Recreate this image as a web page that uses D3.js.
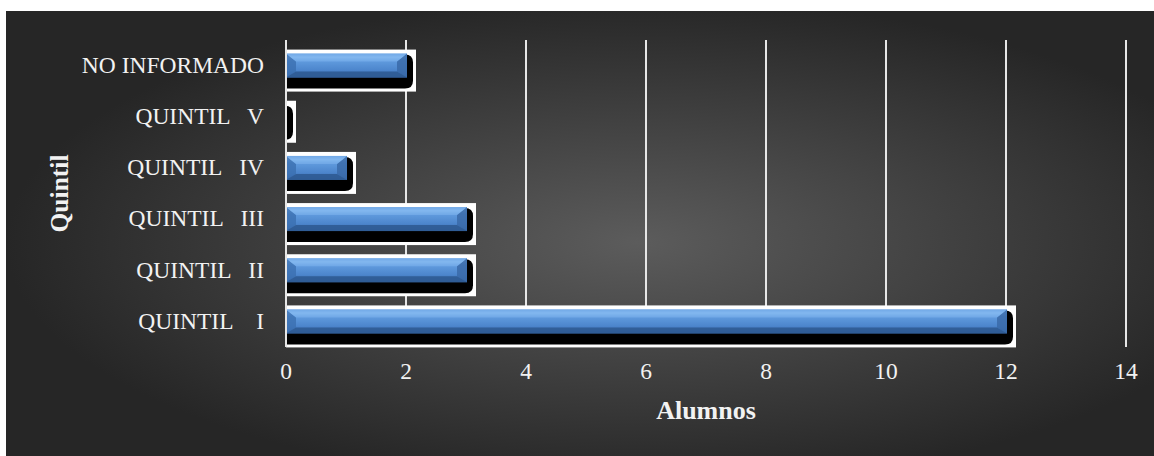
<!DOCTYPE html>
<html><head><meta charset="utf-8">
<script src="https://cdn.jsdelivr.net/npm/d3@7"></script>
<style>html,body{margin:0;padding:0;background:#fff;overflow:hidden}</style>
</head><body>
<svg id="c" width="1154" height="456"></svg>
<script>
const categories = ["NO INFORMADO", "QUINTIL   V", "QUINTIL   IV", "QUINTIL   III", "QUINTIL   II", "QUINTIL    I"];
const values = [2, 0, 1, 3, 3, 12];
const xTicks = [0, 2, 4, 6, 8, 10, 12, 14];
const xTitle = "Alumnos";
const yTitle = "Quintil";

const svg = d3.select("#c");
const defs = svg.append("defs");
const rg = defs.append("radialGradient").attr("id","bg").attr("cx","55%").attr("cy","52%").attr("r","55%");
rg.append("stop").attr("offset","0%").attr("stop-color","#5c5c5c");
rg.append("stop").attr("offset","100%").attr("stop-color","#262626");
const bg = defs.append("linearGradient").attr("id","blue").attr("x1",0).attr("y1",0).attr("x2",0).attr("y2",1);
[["0%","#5e98dc"],["15%","#88bcf0"],["30%","#609bde"],["70%","#4c85cc"],["100%","#3463a2"]].forEach(s=>bg.append("stop").attr("offset",s[0]).attr("stop-color",s[1]));

svg.append("rect").attr("x",6).attr("y",11).attr("width",1148).attr("height",445).attr("fill","url(#bg)");

const x = d3.scaleLinear().domain([0,14]).range([286,1126]);
const y = d3.scaleBand().domain(categories).range([40,347]);

svg.append("g").selectAll("line").data(xTicks).join("line")
  .attr("x1",d=>x(d)).attr("x2",d=>x(d)).attr("y1",40).attr("y2",347)
  .attr("stroke","#e6e6e6").attr("stroke-width",2);

const bars = svg.append("g").selectAll("g").data(categories).join("g")
  .attr("transform",d=>`translate(0,${y(d)+y.bandwidth()/2})`);
bars.each(function(d,i){
  const g = d3.select(this);
  const v = values[i];
  const xe = x(v);
  const x0 = x(0);
  g.append("rect").attr("x",x0).attr("y",-16).attr("width",xe-x0+10).attr("height",42).attr("fill","#ffffff");
  const r = 8, top=-11, bot=23, re = xe+7;
  g.append("path").attr("d",`M${x0},${top} L${re-r},${top} Q${re},${top} ${re},${top+r} L${re},${bot-r} Q${re},${bot} ${re-r},${bot} L${x0},${bot} Z`).attr("fill","#000");
  if (v>0){
    const bx1 = xe+1, h=12, bev=Math.min(10,(bx1-x0)/2);
    g.append("rect").attr("x",x0).attr("y",-h).attr("width",bx1-x0).attr("height",2*h).attr("fill","url(#blue)");
    g.append("path").attr("d",`M${x0},${-h} L${x0+bev},${-h+8} L${x0+bev},${h-6} L${x0},${h} Z`).attr("fill","#3b6fb0").attr("opacity",0.8);
    g.append("path").attr("d",`M${bx1},${-h} L${bx1-bev},${-h+8} L${bx1-bev},${h-6} L${bx1},${h} Z`).attr("fill","#3a6aa8").attr("opacity",0.85);
    g.append("path").attr("d",`M${x0},${h} L${x0+bev},${h-6} L${bx1-bev},${h-6} L${bx1},${h} Z`).attr("fill","#2f5b94").attr("opacity",0.9);
    g.append("path").attr("d",`M${x0},${-h} L${x0+bev},${-h+8} L${bx1-bev},${-h+8} L${bx1},${-h} Z`).attr("fill","#7fb4ee").attr("opacity",0.6);
  }
});

svg.append("line").attr("x1",286).attr("x2",286).attr("y1",40).attr("y2",347).attr("stroke","#e6e6e6").attr("stroke-width",2);

const font = "'Liberation Serif','Times New Roman',serif";
svg.append("g").selectAll("text").data(categories).join("text")
  .attr("x",264).attr("y",d=>y(d)+y.bandwidth()/2+2)
  .attr("text-anchor","end").attr("dominant-baseline","middle")
  .attr("font-family",font).attr("font-size",23.5).attr("fill","#f2f2f2")
  .style("white-space","pre").text(d=>d);

svg.append("g").selectAll("text").data(xTicks).join("text")
  .attr("x",d=>x(d)).attr("y",374).attr("text-anchor","middle").attr("dominant-baseline","middle")
  .attr("font-family",font).attr("font-size",23.5).attr("fill","#f2f2f2").text(d=>d);

svg.append("text").attr("x",(x(0)+x(14))/2).attr("y",413).attr("text-anchor","middle").attr("dominant-baseline","middle")
  .attr("font-family",font).attr("font-size",26).attr("font-weight","bold").attr("fill","#f2f2f2").text(xTitle);

svg.append("text").attr("transform",`translate(62,${(40+347)/2}) rotate(-90)`).attr("text-anchor","middle").attr("dominant-baseline","middle")
  .attr("font-family",font).attr("font-size",25.5).attr("font-weight","bold").attr("fill","#f2f2f2").text(yTitle);
</script>
</body></html>
